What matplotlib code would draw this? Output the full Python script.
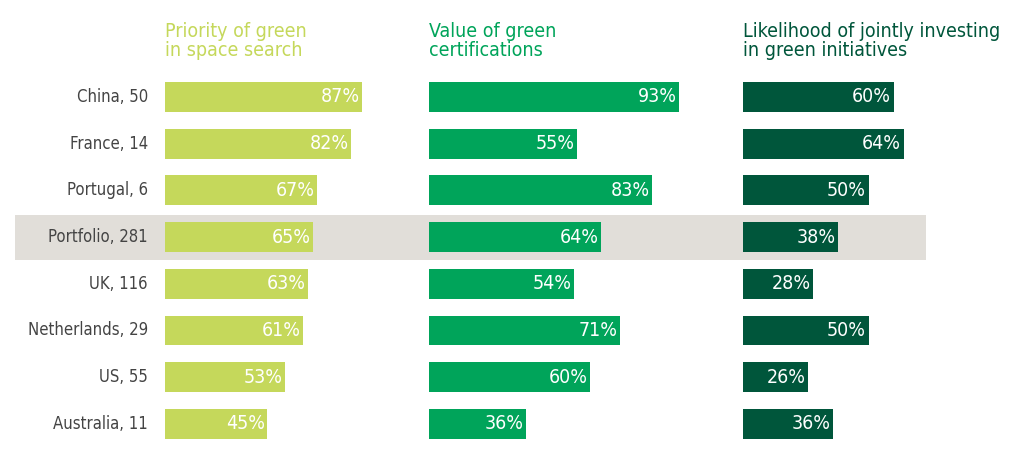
import matplotlib.pyplot as plt
import matplotlib.font_manager as fm

countries = ['China, 50', 'France, 14', 'Portugal, 6', 'Portfolio, 281', 'UK, 116',
             'Netherlands, 29', 'US, 55', 'Australia, 11']
priority = [87, 82, 67, 65, 63, 61, 53, 45]
certifications = [93, 55, 83, 64, 54, 71, 60, 36]
jointly = [60, 64, 50, 38, 28, 50, 26, 36]
titles = ['Priority of green\nin space search', 'Value of green\ncertifications',
          'Likelihood of jointly investing\nin green initiatives']
colors = ['#c5d85b', '#00a45a', '#00563b']

# prefer a condensed face if one is installed
condensed = [f for f in fm.fontManager.ttflist
             if f.stretch in ('condensed', 'semi-condensed', 575, 625, 700)
             or 'Condensed' in f.fname or 'Narrow' in f.name]
stretch = 'condensed' if condensed else 'normal'
font = condensed[0].name if condensed else 'DejaVu Sans'
plt.rcParams['font.family'] = [font, 'DejaVu Sans']
plt.rcParams['font.stretch'] = stretch

fig = plt.figure(figsize=(10.19, 4.63), dpi=100)
bottom, height = 0.034, 0.807
n = len(countries)

# background band for the portfolio row
bg = fig.add_axes([15 / 1019, bottom, 911 / 1019, height])
bg.set_ylim(n - 0.5, -0.5)
bg.set_xlim(0, 1)
bg.axhspan(3 - 0.48, 3 + 0.48, color='#e1ded9', lw=0)
bg.axis('off')

panels = [(165, 227, priority), (429, 269, certifications), (743, 251, jointly)]
for k, (left, width, vals) in enumerate(panels):
    ax = fig.add_axes([left / 1019, bottom, width / 1019, height])
    ax.barh(range(n), vals, height=0.64, color=colors[k])
    ax.set_xlim(0, 100)
    ax.set_ylim(n - 0.5, -0.5)
    ax.axis('off')
    for i, v in enumerate(vals):
        ax.text(v - 1.0, i, f'{v}%', ha='right', va='center', color='white', fontsize=14)
    fig.text(left / 1019, 1 - 22 / 463, titles[k], ha='left', va='top', color=colors[k],
             fontsize=14, linespacing=1.0, fontweight='medium')
    if k == 0:
        for i, c in enumerate(countries):
            ax.text(-7.5, i, c, ha='right', va='center', color='#444444', fontsize=12)

fig.savefig('out.png', dpi=100)
